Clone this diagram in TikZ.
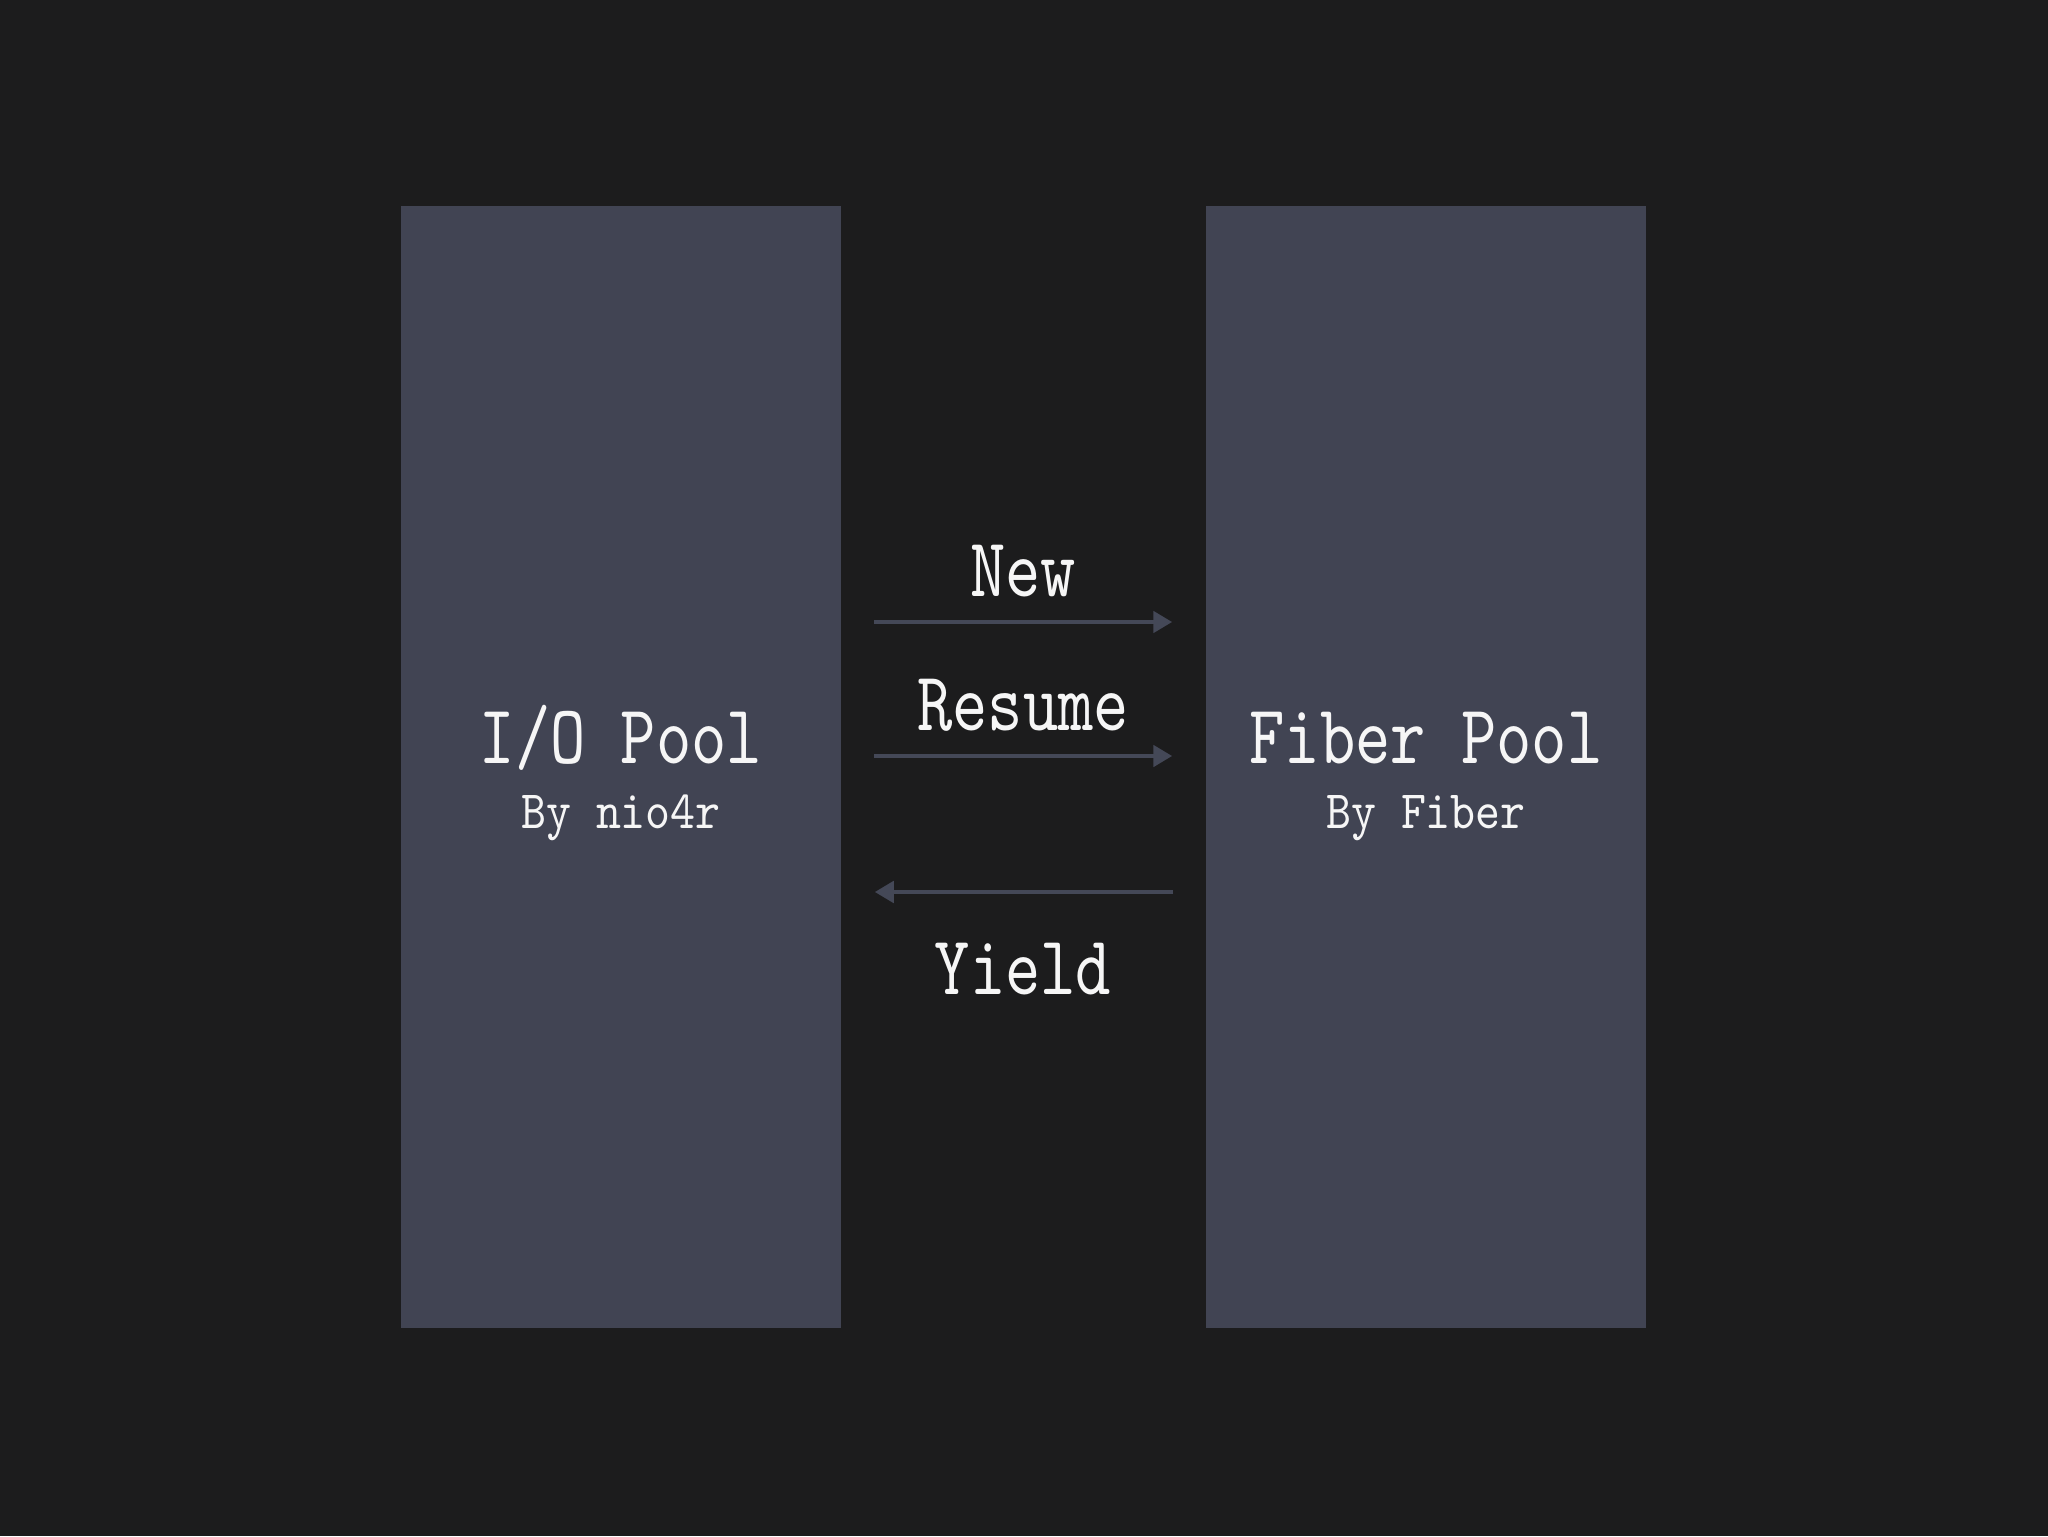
\documentclass[tikz,border=0pt]{standalone}
\usepackage{fontspec}
\usetikzlibrary{arrows.meta}
\newfontfamily\poolcond[FakeStretch=0.8]{lmmono10-regular.otf}
\newfontfamily\poolsub[FakeStretch=0.88]{lmmono10-regular.otf}
\definecolor{bgdark}{RGB}{28,28,29}
\definecolor{poolfill}{RGB}{65,68,83}
\definecolor{flowgray}{RGB}{68,72,87}
\definecolor{txtwhite}{RGB}{246,246,246}
\tikzset{every picture/.style={line width=0.75pt}}
\tikzset{
  pool/.style={fill=poolfill, draw=none, minimum width=220pt, minimum height=561pt, inner sep=0pt},
  bigtxt/.style={anchor=base, inner sep=0pt, text=txtwhite, font=\poolcond\fontsize{42}{48}\selectfont},
  smalltxt/.style={anchor=base, inner sep=0pt, text=txtwhite, font=\poolsub\fontsize{27}{32}\selectfont},
  flow/.style={draw=flowgray, line width=2.4pt, -{Triangle[length=9.5pt,width=10.5pt]}, shorten <=16pt, shorten >=16.5pt}
}
\begin{document}
\begin{tikzpicture}[x=0.5pt,y=0.5pt,yscale=-1,xscale=1]
%set diagram to 2048 x 1536
\fill [bgdark] (0,0) rectangle (2048,1536);
\useasboundingbox (0,0) rectangle (2048,1536);

%Pools
\node [pool] (io) at (621,767) {};
\node [pool] (fiber) at (1426,767) {};

%Pool titles
\node [bigtxt] (iotitle) at (621,763) {I/O Pool};
\node [smalltxt] (iosub) at (621,828) {By nio4r};
\node [bigtxt] (fibertitle) at (1426,763) {Fiber Pool};
\node [smalltxt] (fibersub) at (1426,828) {By Fiber};

%Arrow levels
\coordinate (newlvl) at (1023,622);
\coordinate (resumelvl) at (1023,756);
\coordinate (yieldlvl) at (1023,892);

%Arrows
\draw [flow] (io.east |- newlvl) -- (fiber.west |- newlvl);
\draw [flow] (io.east |- resumelvl) -- (fiber.west |- resumelvl);
\draw [flow] (fiber.west |- yieldlvl) -- (io.east |- yieldlvl);

%Arrow labels
\node [bigtxt] (newlbl) at (1023,596) {New};
\node [bigtxt] (resumelbl) at (1023,730) {Resume};
\node [bigtxt] (yieldlbl) at (1023,994) {Yield};

\end{tikzpicture}
\end{document}
